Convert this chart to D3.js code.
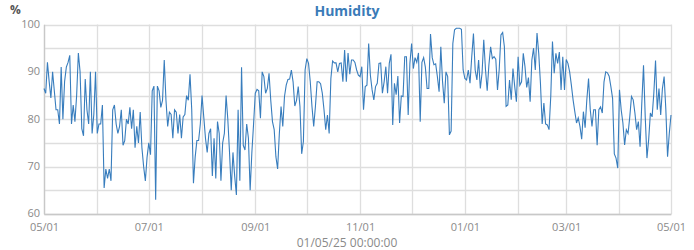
<!DOCTYPE html>
<html>
<head>
<meta charset="utf-8">
<script src="https://cdn.jsdelivr.net/npm/d3@7"></script>
<style>
  body { margin: 0; background: #fff; }
  svg { display: block; font-family: "Open Sans", "Noto Sans", sans-serif; }
</style>
</head>
<body>
<div id="chart"></div>
<script>
// daily humidity (%) from 01/05/25, one array per month
const may = [86.5, 85.5, 92, 88, 84.5, 90, 86, 82, 82, 79, 91, 80, 88, 91, 92, 93.5, 79, 83, 79.5, 85, 94, 90, 78, 76.5, 88.5, 82, 79, 90, 77, 81, 90];
const jun = [77, 79, 79, 83, 65.5, 69.5, 67.5, 69.5, 67, 82, 83, 79, 77, 78.5, 82, 74.5, 75.5, 80, 79, 82.5, 78, 82, 74, 78.5, 75, 81.5, 74, 70, 67, 72];
const jul = [75, 72.5, 86, 87, 63, 87, 86, 82.5, 84, 92.5, 84, 78.5, 81.5, 81, 76, 82, 81.5, 77, 81, 76, 80.5, 81, 85, 84, 89.5, 82, 66.5, 72, 75.5, 75.5, 79];
const aug = [85, 80.5, 76, 73, 77, 78, 68, 76, 67.5, 79.5, 77, 67, 75, 77, 85, 80, 73, 65, 73, 68, 64, 82, 67, 91, 74.5, 73.5, 79, 76, 65, 73, 79];
const sep = [85.5, 86.3, 86, 80.2, 90, 89, 85.5, 86.5, 89.7, 84, 79.5, 77.8, 72.1, 69.5, 77, 82.7, 78.5, 84.8, 87.2, 88.4, 88.5, 90.4, 87.9, 82.8, 84, 86.9, 82.7, 72.7, 75.3, 90.4];
const oct = [92.8, 91.8, 87.9, 82.7, 78.5, 82.7, 87.9, 87.9, 87.5, 85.5, 82, 77.8, 80.9, 77, 88.6, 92.3, 91.9, 91.9, 90, 91.8, 91.9, 87.9, 94.6, 87.9, 94, 89.5, 92.5, 92.5, 92, 90.4, 89.3];
const nov = [89, 91.1, 82, 86.9, 87.2, 96, 89.3, 86.2, 84.1, 86.9, 87.6, 91.8, 91.9, 85.5, 87.9, 91.1, 85.5, 91.8, 93.7, 78.8, 87.6, 85.2, 89.1, 79.2, 84.9, 84.8, 93.2, 93.2, 80.9, 91.8];
const dec = [96, 90.7, 93, 92, 94, 79.5, 92, 93, 91, 86.5, 86.5, 98, 93, 91.5, 91.7, 89, 85.8, 95.3, 88, 83.4, 90, 89, 76.7, 77.5, 96, 98.9, 99.2, 99.2, 99.2, 99, 90.4];
const jan = [88.6, 88.3, 90.4, 87.6, 93.2, 98.1, 90.4, 88.3, 92.5, 86.5, 89.7, 96.8, 90.5, 86, 91.5, 95.3, 92.8, 93.2, 92.7, 86.2, 90.5, 97.8, 98.3, 95.3, 82.7, 83, 88.3, 84.1, 90.7, 87, 83.7];
const feb = [93.2, 87.2, 87.9, 93.9, 91.1, 86.7, 88.8, 83.7, 92.5, 95, 90.4, 98.2, 93.9, 87.6, 79, 83.4, 79, 78.8, 77.8, 84.8, 96.4, 89.7, 93.9, 91.8, 94.2, 86.2, 93.2, 86.2];
const mar = [92.6, 91.8, 90, 87.2, 84.1, 81.6, 79.2, 80.3, 78.5, 75.8, 81.6, 78.2, 84.1, 88.6, 82, 78.5, 82, 82, 74.5, 82, 82.6, 81.3, 87.9, 90, 89.8, 89.1, 86.9, 84.4, 72.7, 71.8, 69.7];
const apr = [86.2, 82, 79.2, 74.6, 77.8, 77, 80.5, 84.8, 84.1, 81.3, 77.8, 79.5, 74.2, 83.4, 91.4, 80.5, 71.8, 75.7, 81.3, 80.5, 85.5, 92.4, 82, 86.5, 80.9, 86.5, 89, 82, 72.1, 77];
const lastDay = [80.9];

const yTicks = [60, 70, 80, 90, 100];
const yGrid = [60, 65, 70, 75, 80, 85, 90, 95, 100];

const width = 694, height = 250;
const margin = { top: 24.5, right: 23, bottom: 36, left: 44 };

const start = new Date(2025, 4, 1);
const end = new Date(2026, 4, 1);
const values = [].concat(may, jun, jul, aug, sep, oct, nov, dec, jan, feb, mar, apr, lastDay);
const data = values.map((v, i) => ({ date: d3.timeDay.offset(start, i), value: v }));

const svg = d3.select('#chart').append('svg')
    .attr('width', width)
    .attr('height', height);

const x = d3.scaleTime()
    .domain([start, end])
    .range([margin.left, width - margin.right]);

const y = d3.scaleLinear()
    .domain([60, 100])
    .range([height - margin.bottom, margin.top]);

// grid
svg.append('g')
    .selectAll('line')
    .data(yGrid)
    .join('line')
    .attr('x1', margin.left)
    .attr('x2', width - margin.right)
    .attr('y1', d => Math.round(y(d)) + 0.5)
    .attr('y2', d => Math.round(y(d)) + 0.5)
    .attr('stroke', '#dedede')
    .attr('stroke-width', 1.3);

svg.append('g')
    .selectAll('line')
    .data(d3.timeMonth.range(start, d3.timeDay.offset(end, 1)))
    .join('line')
    .attr('x1', d => Math.round(x(d)) + 0.5)
    .attr('x2', d => Math.round(x(d)) + 0.5)
    .attr('y1', margin.top)
    .attr('y2', height - margin.bottom)
    .attr('stroke', '#dedede')
    .attr('stroke-width', 1.3);

// axes
const xAxis = svg.append('g')
    .attr('transform', 'translate(0,' + (height - margin.bottom) + ')')
    .call(d3.axisBottom(x)
        .tickValues(d3.timeMonth.every(2).range(start, d3.timeDay.offset(end, 1)))
        .tickFormat(d3.timeFormat('%m/%d'))
        .tickSize(0)
        .tickPadding(9));

const yAxis = svg.append('g')
    .attr('transform', 'translate(' + margin.left + ',0)')
    .call(d3.axisLeft(y)
        .tickValues(yTicks)
        .tickSize(0)
        .tickPadding(4));

yAxis.selectAll('text').attr('dy', '0.25em');

[xAxis, yAxis].forEach(a => {
    a.select('.domain').attr('stroke', '#c8c8c8').attr('stroke-width', 1.3);
    a.selectAll('text')
        .attr('fill', '#8a8a8a')
        .style('font-size', '11px')
        .style('font-family', '"Open Sans", sans-serif');
});

// line
svg.append('path')
    .datum(data)
    .attr('fill', 'none')
    .attr('stroke', '#387dbd')
    .attr('stroke-width', 1.1)
    .attr('d', d3.line()
        .x(d => x(d.date))
        .y(d => y(d.value)));

// titles
svg.append('text')
    .attr('x', width / 2)
    .attr('y', 16)
    .attr('text-anchor', 'middle')
    .attr('fill', '#3a7bb8')
    .style('font-size', '14px')
    .style('font-weight', 'bold')
    .text('Humidity');

svg.append('text')
    .attr('x', 10)
    .attr('y', 14)
    .attr('fill', '#555')
    .style('font-size', '12px')
    .style('font-weight', 'bold')
    .text('%');

svg.append('text')
    .attr('x', width / 2)
    .attr('y', 247)
    .attr('text-anchor', 'middle')
    .attr('fill', '#8a8a8a')
    .style('font-size', '12px')
    .text('01/05/25 00:00:00');
</script>
</body>
</html>
